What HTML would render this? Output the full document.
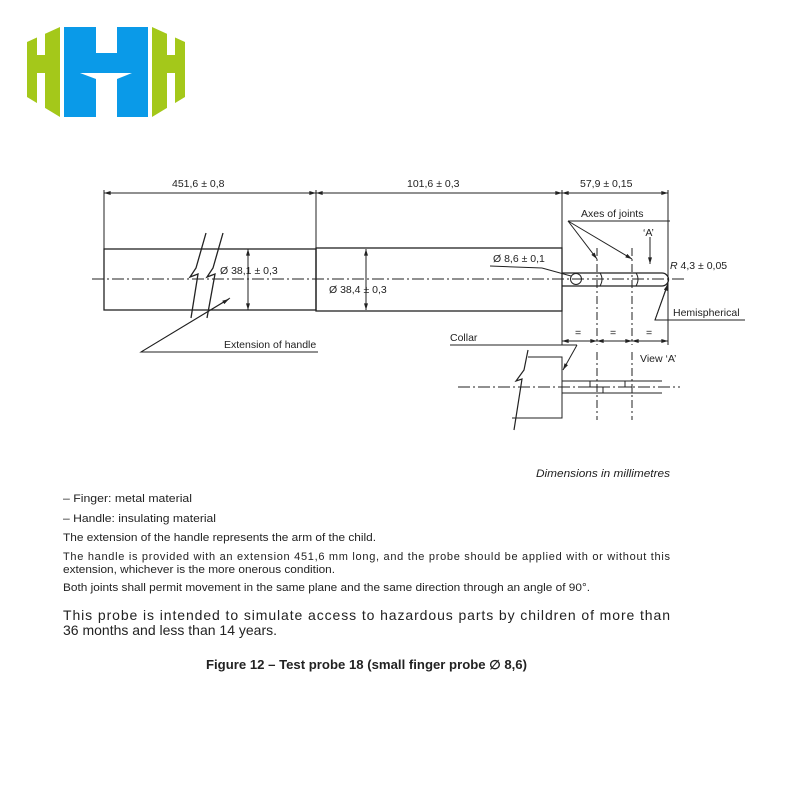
<!DOCTYPE html>
<html><head><meta charset="utf-8"><style>
body{margin:0;background:#fff;}
svg{display:block;}
text{font-family:"Liberation Sans",Arial,sans-serif;fill:#222;}
</style></head><body>
<svg width="800" height="800" viewBox="0 0 800 800" xmlns="http://www.w3.org/2000/svg">
<defs>
<marker id="a" viewBox="0 0 10 6" refX="10" refY="3" markerWidth="8" markerHeight="4" orient="auto-start-reverse"><path d="M0,0L10,3L0,6z" fill="#222"/></marker>
</defs>
<!-- logo -->
<polygon points="27,42 60,27 60,117 27,97" fill="#a4c81a"/>
<rect x="37" y="30" width="8" height="25" fill="#fff"/>
<rect x="37" y="73" width="8" height="40" fill="#fff"/>
<polygon points="64,27 148,27 148,117 64,117" fill="#0a9ae8"/>
<rect x="96" y="27" width="21" height="26" fill="#fff"/>
<polygon points="80,73 132,73 117,79 117,117 96,117 96,79" fill="#fff"/>
<polygon points="152,27 185,42 185,97 152,117" fill="#a4c81a"/>
<rect x="167" y="30" width="8" height="25" fill="#fff"/>
<rect x="167" y="73" width="8" height="40" fill="#fff"/>

<g stroke="#222" stroke-width="1" fill="none">
<line x1="104" y1="190" x2="104" y2="310"/>
<line x1="316" y1="190" x2="316" y2="310"/>
<line x1="562" y1="190" x2="562" y2="345"/>
<line x1="668" y1="190" x2="668" y2="345"/>
<line x1="104" y1="193" x2="316" y2="193" marker-start="url(#a)" marker-end="url(#a)"/>
<line x1="316" y1="193" x2="562" y2="193" marker-start="url(#a)" marker-end="url(#a)"/>
<line x1="562" y1="193" x2="668" y2="193" marker-start="url(#a)" marker-end="url(#a)"/>
<rect x="104" y="249" width="212" height="61" stroke-width="1.3"/>
<rect x="316" y="248" width="246" height="63" stroke-width="1.3"/>
<line x1="248" y1="249" x2="248" y2="310" marker-start="url(#a)" marker-end="url(#a)"/>
<line x1="366" y1="249" x2="366" y2="310"/>
<polyline points="366,262 366,249" marker-end="url(#a)"/>
<polyline points="366,297 366,310" marker-end="url(#a)"/>
<polyline points="206,233 196,268 190,277 198,274 191,318" stroke-width="1.3" fill="none"/>
<polyline points="223,233 213,268 207,277 215,274 207,318" stroke-width="1.3" fill="none"/>
<line x1="92" y1="279" x2="685" y2="279" stroke-dasharray="12,3,2,3"/>
<polyline points="230,298 141,352 318,352" />
<line x1="141" y1="352" x2="229" y2="299" marker-end="url(#a)"/>
<path d="M562,273 L662,273 A6.5,6.5 0 0 1 662,286 L562,286" stroke-width="1.3"/>
<circle cx="576" cy="279" r="5.5"/>
<line x1="542" y1="268" x2="571" y2="276"/>
<polyline points="490,266 542,268"/>
<path d="M600,273 q4,6 0,13 M636,273 q4,6 0,13"/>
<line x1="597" y1="248" x2="597" y2="345" stroke-dasharray="8,3,2,3"/>
<line x1="632" y1="248" x2="632" y2="345" stroke-dasharray="8,3,2,3"/>
<polyline points="670,221 568,221"/>
<line x1="568" y1="221" x2="597" y2="259" marker-end="url(#a)"/>
<line x1="568" y1="221" x2="632" y2="259" marker-end="url(#a)"/>
<line x1="650" y1="237" x2="650" y2="264" marker-end="url(#a)"/>
<polyline points="745,320 655,320 668,283" />
<line x1="655" y1="320" x2="668" y2="284" marker-end="url(#a)"/>
<line x1="562" y1="341" x2="597" y2="341" marker-start="url(#a)" marker-end="url(#a)"/>
<line x1="597" y1="341" x2="632" y2="341" marker-start="url(#a)" marker-end="url(#a)"/>
<line x1="632" y1="341" x2="668" y2="341" marker-start="url(#a)" marker-end="url(#a)"/>
<polyline points="450,345 577,345"/>
<line x1="577" y1="345" x2="563" y2="370" marker-end="url(#a)"/>
<polyline points="528,357 562,357 562,418 512,418"/>
<polyline points="528,350 524,370 516,381 522,379 514,430" stroke-width="1.2"/>
<line x1="458" y1="387" x2="680" y2="387" stroke-dasharray="12,3,2,3"/>
<line x1="562" y1="381" x2="662" y2="381"/>
<line x1="562" y1="393" x2="662" y2="393"/>
<polyline points="590,381 590,387 603,387 603,393"/>
<polyline points="625,381 625,387 632,387 632,393"/>
<line x1="597" y1="352" x2="597" y2="420" stroke-dasharray="8,3,2,3"/>
<line x1="632" y1="352" x2="632" y2="420" stroke-dasharray="8,3,2,3"/>
</g>

<g font-size="10.5">
<text x="172" y="187">451,6 ± 0,8</text>
<text x="407" y="187">101,6 ± 0,3</text>
<text x="580" y="187">57,9 ± 0,15</text>
<text x="581" y="217">Axes of joints</text>
<text x="643" y="236">‘A’</text>
<text x="493" y="262">Ø 8,6 ± 0,1</text>
<text x="670" y="269"><tspan font-style="italic">R</tspan> 4,3 ± 0,05</text>
<text x="220" y="274">Ø 38,1 ± 0,3</text>
<text x="329" y="293">Ø 38,4 ± 0,3</text>
<text x="673" y="316">Hemispherical</text>
<text x="224" y="348">Extension of handle</text>
<text x="450" y="341">Collar</text>
<text x="575" y="336">=</text><text x="610" y="336">=</text><text x="646" y="336">=</text>
<text x="640" y="362">View ‘A’</text>
</g>
<g font-size="11">
<text x="536" y="477" font-style="italic" textLength="134" lengthAdjust="spacingAndGlyphs">Dimensions in millimetres</text>
<text x="63" y="502" textLength="129" lengthAdjust="spacingAndGlyphs">–  Finger: metal material</text>
<text x="63" y="522" textLength="153" lengthAdjust="spacingAndGlyphs">–  Handle: insulating material</text>
<text x="63" y="541" textLength="313" lengthAdjust="spacingAndGlyphs">The extension of the handle represents the arm of the child.</text>
<text x="63" y="560" textLength="607" lengthAdjust="spacing">The handle is provided with an extension 451,6 mm long, and the probe should be applied with or without this</text>
<text x="63" y="573" textLength="272" lengthAdjust="spacingAndGlyphs">extension, whichever is the more onerous condition.</text>
<text x="63" y="591" textLength="527" lengthAdjust="spacingAndGlyphs">Both joints shall permit movement in the same plane and the same direction through an angle of 90°.</text>
</g>
<text x="63" y="620" font-size="14" textLength="607" lengthAdjust="spacing">This probe is intended to simulate access to hazardous parts by children of more than</text>
<text x="63" y="635" font-size="14">36 months and less than 14 years.</text>
<text x="206" y="669" font-size="12.5" font-weight="bold" textLength="321" lengthAdjust="spacingAndGlyphs">Figure 12 – Test probe 18 (small finger probe ∅ 8,6)</text>
</svg>
</body></html>
